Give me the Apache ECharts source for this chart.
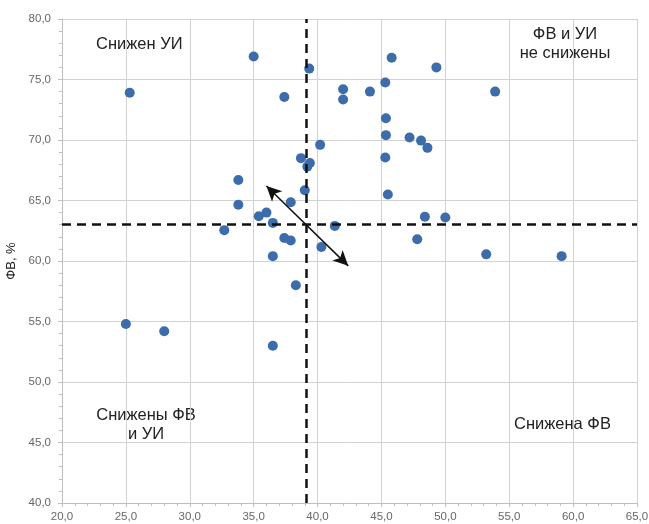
<!DOCTYPE html>
<html><head><meta charset="utf-8">
<script src="https://cdn.jsdelivr.net/npm/echarts@6/dist/echarts.min.js"></script>
<style>html,body{margin:0;padding:0;background:#fff}#c{width:649px;height:524px}</style>
</head><body><div id="c"></div>
<script>
const xVals = [25.3,35.0,39.35,37.4,40.2,38.7,39.4,39.2,33.8,39.0,33.8,37.9,35.4,36.0,36.5,32.7,37.4,37.9,40.3,36.5,
  38.3,25.0,28.0,36.5,
  45.8,49.3,42.0,42.0,44.1,45.3,53.9,45.35,45.35,47.2,48.1,48.6,45.3,45.5,48.4,50.0,41.35,47.8,53.2,59.1];
const yVals = [73.9,76.9,75.9,73.55,69.6,68.5,68.1,67.8,66.7,65.85,64.65,64.85,63.7,64.0,63.15,62.55,61.9,61.7,61.15,60.4,
  58.0,54.8,54.2,53.0,
  76.8,76.0,74.2,73.35,74.0,74.75,74.0,71.8,70.4,70.2,69.95,69.35,68.55,65.5,63.65,63.6,62.9,61.8,60.55,60.4];
const xTicks = {min: 20, max: 65, interval: 5};
const yTicks = {min: 40, max: 80, interval: 5};
const xCut = 39.1, yCut = 63.0;
const arrowFrom = [36.0, 66.2], arrowTo = [42.4, 59.6];
const quadLabels = ['Снижен УИ', 'ФВ и УИ\nне снижены', 'Снижены ФВ\nи УИ', 'Снижена ФВ'];
const yName = 'ФВ, %';

const pts = xVals.map((x, i) => [x, yVals[i]]);
const fmt = v => v.toFixed(1).replace('.', ',');
const chart = echarts.init(document.getElementById('c'), null, {renderer: 'canvas'});
const axisCommon = {
  axisLine: {show: true, lineStyle: {color: '#bfbfbf', width: 1}},
  axisTick: {show: true, length: 4, lineStyle: {color: '#bfbfbf'}},
  minorTick: {show: true, splitNumber: 5, length: 3, lineStyle: {color: '#bfbfbf'}},
  splitLine: {show: true, lineStyle: {color: '#d2d2d2', width: 1}},
  axisLabel: {color: '#666', fontSize: 11.5, fontFamily: 'Liberation Sans, Arial', formatter: fmt}
};
const qStyle = {fill: '#222', font: '16.5px "Liberation Sans", Arial', textAlign: 'center', lineHeight: 19};
chart.setOption({
  animation: false,
  grid: {left: 62, right: 12, top: 19, bottom: 21, outerBoundsMode: 'none', containLabel: false},
  xAxis: Object.assign({type: 'value', min: xTicks.min, max: xTicks.max, interval: xTicks.interval}, axisCommon,
    {axisLabel: Object.assign({}, axisCommon.axisLabel, {margin: 8})}),
  yAxis: Object.assign({type: 'value', min: yTicks.min, max: yTicks.max, interval: yTicks.interval,
    name: yName, nameLocation: 'middle', nameGap: 42, nameRotate: 90,
    nameTextStyle: {color: '#222', fontSize: 13, fontFamily: 'Liberation Sans, Arial'}}, axisCommon,
    {axisLabel: Object.assign({}, axisCommon.axisLabel, {margin: 11})}),
  graphic: [
    {type: 'text', left: 96, top: 35, style: Object.assign({}, qStyle, {text: quadLabels[0], textAlign: 'left'})},
    {type: 'text', x: 565, y: 25, style: Object.assign({}, qStyle, {text: quadLabels[1], textAlign: 'center'})},
    {type: 'text', x: 146, y: 406, style: Object.assign({}, qStyle, {text: quadLabels[2], textAlign: 'center'})},
    {type: 'text', left: 514, top: 415, style: Object.assign({}, qStyle, {text: quadLabels[3], textAlign: 'left'})}
  ],
  series: [{
    type: 'scatter',
    data: [],
    z: 1,
    markLine: {
      silent: true,
      symbol: ['none', 'none'],
      label: {show: false},
      lineStyle: {color: '#111', type: [9, 6], width: 2.5},
      data: [{xAxis: xCut}, {yAxis: yCut}]
    }
  }, {
    type: 'scatter',
    data: pts,
    symbolSize: 10,
    itemStyle: {color: '#3d6caa', opacity: 1},
    z: 3,
    markLine: {
      silent: true,
      symbol: ['none', 'none'],
      label: {show: false},
      data: [
        [{coord: arrowFrom, symbol: 'arrow', symbolSize: [11, 15], lineStyle: {type: 'solid', width: 1.5, color: '#111'}},
         {coord: arrowTo, symbol: 'arrow', symbolSize: [11, 15]}]
      ]
    }
  }]
});
</script></body></html>
